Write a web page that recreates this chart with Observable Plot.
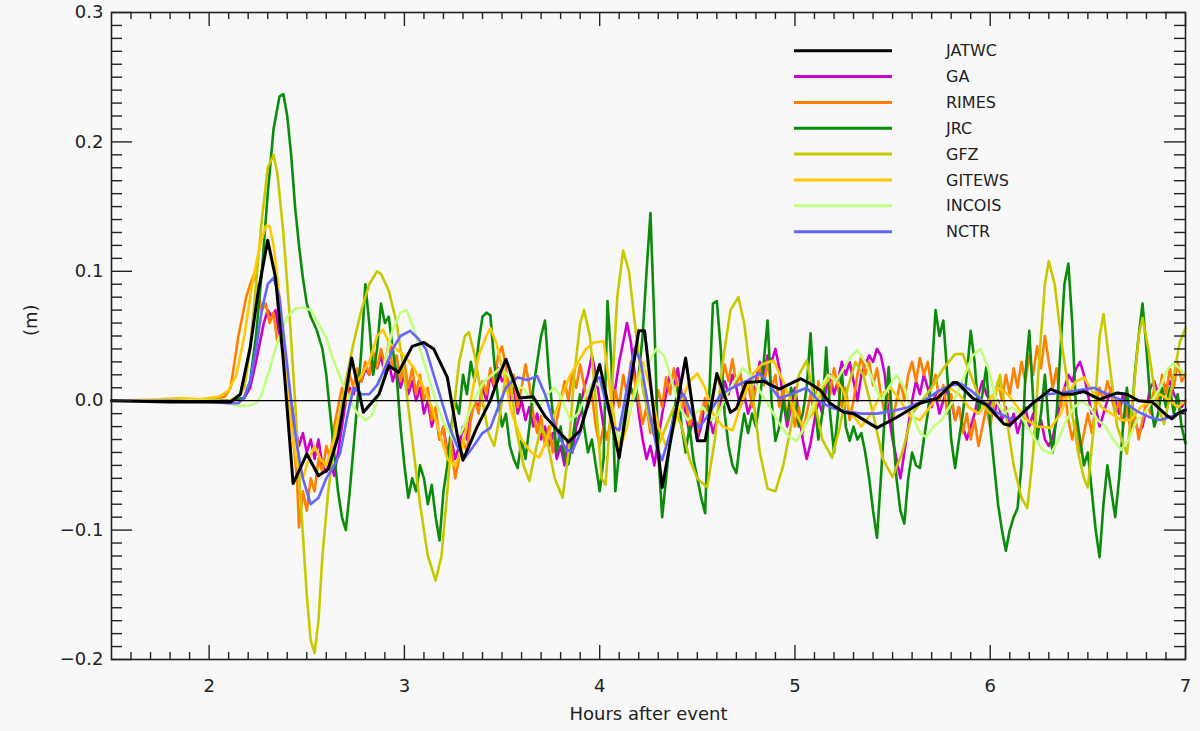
<!DOCTYPE html>
<html><head><meta charset="utf-8">
<script src="https://cdn.jsdelivr.net/npm/d3@7"></script>
<script src="https://cdn.jsdelivr.net/npm/@observablehq/plot@0.6"></script>
<style>
html,body{margin:0;padding:0;background:#f8f8f8;}
#wrap{position:relative;width:1200px;height:731px;}
#legend{position:absolute;left:0;top:0;pointer-events:none;}
</style></head><body><div id="wrap"></div>
<script>
// ---------- series (hours after event, metres) ----------
const JATWC = [[1.5,0],[1.8,-0.001],[2.0,-0.001],[2.11,-0.001],[2.16,0.005],[2.21,0.041],[2.25,0.083],[2.30,0.124],[2.34,0.095],[2.38,0.031],[2.43,-0.064],[2.50,-0.041],[2.56,-0.058],[2.61,-0.053],[2.66,-0.028],[2.73,0.033],[2.79,-0.009],[2.87,0.005],[2.92,0.027],[2.97,0.022],[3.04,0.042],[3.10,0.045],[3.15,0.040],[3.22,0.018],[3.27,-0.026],[3.30,-0.046],[3.37,-0.021],[3.44,0.0],[3.49,0.021],[3.52,0.032],[3.59,0.002],[3.66,0.003],[3.72,-0.012],[3.84,-0.032],[3.90,-0.023],[4.0,0.028],[4.10,-0.044],[4.20,0.054],[4.23,0.054],[4.32,-0.067],[4.44,0.033],[4.50,-0.031],[4.54,-0.031],[4.60,0.021],[4.67,-0.009],[4.70,-0.006],[4.75,0.014],[4.84,0.015],[4.92,0.009],[5.03,0.017],[5.08,0.013],[5.13,0.008],[5.18,-0.002],[5.25,-0.009],[5.30,-0.010],[5.42,-0.021],[5.52,-0.013],[5.64,-0.002],[5.73,0.002],[5.81,0.014],[5.83,0.014],[5.91,0.002],[5.98,-0.003],[6.07,-0.018],[6.10,-0.019],[6.21,-0.003],[6.31,0.009],[6.37,0.005],[6.42,0.005],[6.48,0.007],[6.56,0.001],[6.65,0.006],[6.70,0.005],[6.76,0.0],[6.83,-0.001],[6.90,-0.011],[6.93,-0.014],[6.96,-0.010],[7.0,-0.007]];

const GA = [[1.5,0],[2.1,0],[2.18,0.002],[2.21,0.01],[2.24,0.03],[2.26,0.045],[2.28,0.06],[2.30,0.07],[2.32,0.065],[2.34,0.07],[2.36,0.05],[2.38,0.04],[2.40,0.015],[2.42,0.0],[2.44,-0.02],[2.46,-0.035],[2.48,-0.025],[2.50,-0.04],[2.52,-0.03],[2.54,-0.045],[2.56,-0.03],[2.58,-0.05],[2.60,-0.055],[2.62,-0.045],[2.64,-0.058],[2.66,-0.04],[2.68,-0.02],[2.70,0.0],[2.72,0.01],[2.74,0.005],[2.76,0.02],[2.78,0.015],[2.80,0.025],[2.82,0.02],[2.84,0.03],[2.86,0.025],[2.88,0.035],[2.90,0.02],[2.92,0.03],[2.94,0.015],[2.96,0.025],[2.98,0.01],[3.0,0.02],[3.02,0.005],[3.04,0.015],[3.06,0.0],[3.08,0.01],[3.10,-0.01],[3.12,0.0],[3.14,-0.02],[3.16,-0.01],[3.18,-0.03],[3.20,-0.02],[3.22,-0.04],[3.24,-0.03],[3.26,-0.045],[3.28,-0.035],[3.30,-0.02],[3.32,-0.03],[3.34,-0.01],[3.36,0.0],[3.38,-0.005],[3.40,0.01],[3.42,0.0],[3.44,0.02],[3.46,0.01],[3.48,0.025],[3.50,0.015],[3.52,0.02],[3.54,0.0],[3.56,0.01],[3.58,-0.01],[3.60,0.0],[3.62,-0.015],[3.64,-0.005],[3.66,-0.02],[3.68,-0.01],[3.70,-0.03],[3.72,-0.02],[3.74,-0.035],[3.76,-0.025],[3.78,-0.045],[3.80,-0.035],[3.82,-0.05],[3.84,-0.03],[3.86,-0.04],[3.88,-0.02],[3.90,-0.01],[3.92,0.01],[3.94,0.02],[3.96,0.035],[3.98,0.02],[4.00,0.0],[4.02,-0.02],[4.04,-0.03],[4.06,-0.015],[4.08,0.01],[4.10,0.03],[4.12,0.045],[4.14,0.06],[4.16,0.045],[4.18,0.02],[4.20,-0.01],[4.22,-0.03],[4.24,-0.045],[4.26,-0.035],[4.28,-0.05],[4.30,-0.03],[4.32,-0.01],[4.34,0.005],[4.36,0.02],[4.38,0.01],[4.40,0.025],[4.42,0.005],[4.44,-0.01],[4.46,-0.025],[4.48,-0.015],[4.50,-0.03],[4.52,-0.02],[4.54,0.0],[4.56,-0.01],[4.58,-0.025],[4.60,-0.015],[4.62,0.0],[4.64,0.015],[4.66,0.005],[4.68,0.02],[4.70,0.01],[4.72,-0.005],[4.74,0.005],[4.76,-0.01],[4.78,0.0],[4.80,0.015],[4.82,0.03],[4.84,0.02],[4.86,0.035],[4.88,0.03],[4.90,0.04],[4.92,0.025],[4.94,0.0],[4.96,-0.02],[4.98,-0.005],[5.00,0.01],[5.02,-0.01],[5.04,-0.03],[5.06,-0.045],[5.08,-0.033],[5.10,-0.015],[5.12,0.0],[5.14,-0.01],[5.16,0.01],[5.18,0.02],[5.20,0.005],[5.22,0.015],[5.24,0.03],[5.26,0.02],[5.28,0.03],[5.30,0.015],[5.32,0.0],[5.34,0.02],[5.36,0.028],[5.38,0.035],[5.40,0.03],[5.42,0.04],[5.44,0.035],[5.46,0.02],[5.48,-0.01],[5.50,-0.03],[5.52,-0.045],[5.54,-0.06],[5.56,-0.04],[5.58,-0.02],[5.60,0.0],[5.62,0.015],[5.64,0.005],[5.66,0.02],[5.68,0.01],[5.70,-0.005],[5.72,0.005],[5.74,-0.01],[5.76,0.0],[5.78,0.01],[5.80,0.0],[5.82,-0.015],[5.84,-0.005],[5.86,-0.02],[5.88,-0.03],[5.90,-0.02],[5.92,-0.01],[5.94,0.005],[5.96,0.015],[5.98,0.005],[6.00,0.0],[6.02,-0.01],[6.04,0.0],[6.06,-0.015],[6.08,-0.005],[6.10,-0.02],[6.12,-0.01],[6.14,-0.025],[6.16,-0.015],[6.18,-0.005],[6.20,-0.02],[6.22,-0.01],[6.24,-0.025],[6.26,-0.015],[6.28,-0.03],[6.30,-0.035],[6.32,-0.028],[6.34,-0.015],[6.36,0.0],[6.38,0.01],[6.40,0.02],[6.42,0.015],[6.44,0.025],[6.46,0.03],[6.48,0.02],[6.50,0.005],[6.52,-0.01],[6.54,-0.005],[6.56,-0.02],[6.58,-0.01],[6.60,0.0],[6.62,0.01],[6.64,0.0],[6.66,-0.01],[6.68,0.005],[6.70,-0.01],[6.72,-0.02],[6.74,-0.015],[6.76,-0.025],[6.78,-0.02],[6.80,-0.005],[6.82,0.01],[6.84,0.015],[6.86,0.005],[6.88,0.015],[6.90,0.01],[6.92,0.015],[6.94,0.005],[6.96,0.0],[6.98,-0.005],[7.0,0.0]];

const RIMES = [[1.5,0],[2.0,0.001],[2.08,0.003],[2.11,0.01],[2.13,0.03],[2.15,0.05],[2.17,0.065],[2.19,0.08],[2.21,0.09],[2.23,0.098],[2.25,0.085],[2.27,0.07],[2.29,0.075],[2.31,0.06],[2.33,0.068],[2.35,0.045],[2.37,0.05],[2.39,0.025],[2.41,0.005],[2.43,-0.03],[2.45,-0.06],[2.46,-0.098],[2.48,-0.07],[2.50,-0.085],[2.52,-0.06],[2.54,-0.07],[2.56,-0.045],[2.58,-0.055],[2.60,-0.035],[2.62,-0.045],[2.64,-0.02],[2.66,-0.005],[2.68,0.01],[2.70,0.0],[2.72,0.02],[2.74,0.01],[2.76,0.025],[2.78,0.015],[2.80,0.03],[2.82,0.02],[2.84,0.038],[2.86,0.025],[2.88,0.04],[2.90,0.028],[2.92,0.045],[2.94,0.025],[2.96,0.035],[2.98,0.015],[3.00,0.03],[3.02,0.01],[3.04,0.025],[3.06,0.005],[3.08,0.02],[3.10,0.0],[3.12,0.01],[3.14,-0.015],[3.16,-0.005],[3.18,-0.03],[3.20,-0.02],[3.22,-0.045],[3.24,-0.035],[3.26,-0.06],[3.28,-0.045],[3.30,-0.03],[3.32,-0.04],[3.34,-0.015],[3.36,0.0],[3.38,-0.01],[3.40,0.015],[3.42,0.005],[3.44,0.025],[3.46,0.012],[3.48,0.035],[3.50,0.042],[3.52,0.025],[3.54,0.005],[3.56,0.02],[3.58,-0.005],[3.60,0.01],[3.62,0.028],[3.64,0.012],[3.66,-0.01],[3.68,-0.025],[3.70,-0.012],[3.72,-0.035],[3.74,-0.02],[3.76,-0.04],[3.78,-0.015],[3.80,0.0],[3.82,0.015],[3.84,0.0],[3.86,0.022],[3.88,0.01],[3.90,0.028],[3.92,0.012],[3.94,-0.005],[3.96,0.005],[3.98,-0.02],[4.00,-0.035],[4.02,-0.02],[4.04,-0.03],[4.06,-0.01],[4.08,0.008],[4.10,-0.005],[4.12,0.02],[4.14,0.005],[4.16,0.03],[4.18,0.015],[4.20,0.0],[4.22,-0.018],[4.24,-0.005],[4.26,-0.025],[4.28,-0.01],[4.30,0.008],[4.32,-0.005],[4.34,0.018],[4.36,0.005],[4.38,0.025],[4.40,0.01],[4.42,-0.008],[4.44,0.002],[4.46,-0.02],[4.48,-0.008],[4.50,-0.025],[4.52,-0.01],[4.54,0.002],[4.56,-0.015],[4.58,0.005],[4.60,0.02],[4.62,0.01],[4.64,0.028],[4.66,0.015],[4.68,0.032],[4.70,0.012],[4.72,0.022],[4.74,0.002],[4.76,0.015],[4.78,-0.005],[4.80,0.01],[4.82,0.025],[4.84,0.012],[4.86,0.03],[4.88,0.01],[4.90,0.02],[4.92,-0.005],[4.94,0.01],[4.96,-0.015],[4.98,0.0],[5.00,-0.02],[5.02,-0.005],[5.04,-0.025],[5.06,-0.01],[5.08,0.005],[5.10,-0.01],[5.12,0.015],[5.14,0.0],[5.16,0.02],[5.18,0.005],[5.20,0.025],[5.22,0.01],[5.24,-0.005],[5.26,0.01],[5.28,-0.015],[5.30,0.0],[5.32,0.02],[5.34,0.035],[5.36,0.02],[5.38,0.03],[5.40,0.012],[5.42,0.025],[5.44,0.005],[5.46,-0.01],[5.48,0.005],[5.50,-0.015],[5.52,0.0],[5.54,0.015],[5.56,0.0],[5.58,0.02],[5.60,0.03],[5.62,0.015],[5.64,0.033],[5.66,0.02],[5.68,0.03],[5.70,0.01],[5.72,0.02],[5.74,0.0],[5.76,0.012],[5.78,-0.01],[5.80,0.005],[5.82,-0.015],[5.84,-0.005],[5.86,-0.025],[5.88,-0.01],[5.90,-0.03],[5.92,-0.015],[5.94,-0.035],[5.96,-0.02],[5.98,-0.005],[6.00,-0.02],[6.02,0.0],[6.04,0.015],[6.06,0.0],[6.08,0.02],[6.10,0.005],[6.12,0.025],[6.14,0.01],[6.16,0.03],[6.18,0.015],[6.20,0.035],[6.22,0.02],[6.24,0.042],[6.26,0.025],[6.28,0.05],[6.30,0.03],[6.32,0.01],[6.34,0.025],[6.36,-0.005],[6.38,0.01],[6.40,-0.015],[6.42,-0.03],[6.44,-0.015],[6.46,-0.04],[6.48,-0.025],[6.50,-0.01],[6.52,-0.025],[6.54,-0.005],[6.56,0.01],[6.58,0.0],[6.60,0.015],[6.62,0.005],[6.64,-0.01],[6.66,0.0],[6.68,-0.02],[6.70,-0.005],[6.72,-0.025],[6.74,-0.01],[6.76,-0.03],[6.78,-0.015],[6.80,0.0],[6.82,-0.01],[6.84,0.01],[6.86,0.0],[6.88,0.02],[6.90,0.005],[6.92,0.025],[6.94,0.01],[6.96,0.03],[6.98,0.015],[7.0,0.02]];

const JRC = [[1.5,0],[2.1,0],[2.18,0.002],[2.21,0.015],[2.24,0.05],[2.27,0.1],[2.30,0.16],[2.33,0.21],[2.36,0.235],[2.38,0.237],[2.40,0.22],[2.42,0.19],[2.44,0.15],[2.46,0.12],[2.48,0.095],[2.50,0.075],[2.52,0.065],[2.55,0.055],[2.58,0.04],[2.60,0.02],[2.62,-0.01],[2.64,-0.04],[2.66,-0.07],[2.68,-0.09],[2.70,-0.1],[2.72,-0.07],[2.74,-0.035],[2.76,0.0],[2.78,0.04],[2.80,0.09],[2.82,0.06],[2.84,0.02],[2.86,0.04],[2.88,0.075],[2.90,0.06],[2.92,0.065],[2.94,0.04],[2.96,0.02],[2.98,-0.02],[3.00,-0.05],[3.02,-0.075],[3.04,-0.06],[3.06,-0.07],[3.08,-0.05],[3.10,-0.06],[3.12,-0.08],[3.14,-0.065],[3.16,-0.09],[3.18,-0.108],[3.20,-0.07],[3.22,-0.05],[3.24,-0.02],[3.26,0.0],[3.28,-0.01],[3.30,0.02],[3.32,0.005],[3.34,0.03],[3.36,0.015],[3.38,0.045],[3.40,0.065],[3.42,0.068],[3.44,0.066],[3.46,0.03],[3.48,0.0],[3.50,-0.02],[3.52,-0.01],[3.54,-0.035],[3.56,-0.045],[3.58,-0.052],[3.60,-0.03],[3.62,-0.045],[3.64,-0.02],[3.66,0.01],[3.68,0.03],[3.70,0.05],[3.72,0.062],[3.74,0.02],[3.76,-0.01],[3.78,-0.04],[3.80,-0.02],[3.82,-0.045],[3.84,-0.049],[3.86,-0.03],[3.88,-0.01],[3.90,0.005],[3.92,-0.02],[3.94,-0.04],[3.96,-0.03],[3.98,-0.05],[4.00,-0.07],[4.02,-0.045],[4.04,0.077],[4.06,0.03],[4.08,-0.07],[4.10,-0.04],[4.12,-0.02],[4.14,0.0],[4.16,0.01],[4.18,0.0],[4.20,0.02],[4.22,0.05],[4.24,0.1],[4.26,0.145],[4.28,0.06],[4.30,-0.04],[4.32,-0.09],[4.34,-0.06],[4.36,-0.03],[4.38,-0.01],[4.40,0.01],[4.42,-0.02],[4.44,-0.04],[4.46,-0.02],[4.48,-0.045],[4.50,-0.06],[4.52,-0.075],[4.54,-0.087],[4.56,0.0],[4.58,0.075],[4.60,0.077],[4.62,0.04],[4.64,-0.01],[4.66,-0.035],[4.68,-0.05],[4.70,-0.056],[4.72,-0.03],[4.74,-0.01],[4.76,-0.025],[4.78,-0.01],[4.80,-0.02],[4.82,0.0],[4.84,0.03],[4.86,0.062],[4.88,0.0],[4.90,-0.031],[4.92,-0.02],[4.94,0.0],[4.96,-0.015],[4.98,0.01],[5.00,0.0],[5.02,-0.02],[5.04,-0.01],[5.06,0.01],[5.08,0.052],[5.10,0.0],[5.12,-0.03],[5.14,-0.01],[5.16,0.041],[5.18,-0.01],[5.20,-0.04],[5.22,-0.01],[5.24,0.023],[5.26,-0.02],[5.28,-0.031],[5.30,-0.02],[5.32,-0.03],[5.34,-0.025],[5.36,-0.04],[5.38,-0.06],[5.40,-0.085],[5.42,-0.106],[5.44,-0.06],[5.46,-0.01],[5.48,0.026],[5.50,-0.02],[5.52,-0.06],[5.54,-0.085],[5.56,-0.095],[5.58,-0.06],[5.60,-0.04],[5.62,-0.05],[5.64,-0.052],[5.66,-0.03],[5.68,-0.01],[5.70,0.02],[5.72,0.07],[5.74,0.05],[5.76,0.062],[5.78,0.02],[5.80,-0.03],[5.82,-0.052],[5.84,-0.03],[5.86,-0.01],[5.88,0.02],[5.90,0.054],[5.92,0.03],[5.94,-0.01],[5.96,0.005],[5.98,0.026],[6.00,-0.02],[6.02,-0.05],[6.04,-0.08],[6.06,-0.1],[6.08,-0.116],[6.10,-0.1],[6.12,-0.09],[6.14,-0.083],[6.16,-0.05],[6.18,0.02],[6.20,0.054],[6.22,0.0],[6.24,-0.03],[6.26,-0.01],[6.28,0.02],[6.30,-0.02],[6.32,-0.04],[6.34,-0.01],[6.36,0.04],[6.38,0.09],[6.40,0.106],[6.42,0.06],[6.44,-0.01],[6.46,-0.03],[6.48,-0.05],[6.50,-0.04],[6.52,-0.07],[6.54,-0.1],[6.56,-0.121],[6.58,-0.08],[6.60,-0.05],[6.62,-0.07],[6.64,-0.09],[6.66,-0.06],[6.68,-0.02],[6.70,0.01],[6.72,-0.02],[6.74,0.02],[6.76,0.05],[6.78,0.075],[6.80,0.04],[6.82,0.0],[6.84,-0.02],[6.86,-0.01],[6.88,0.01],[6.90,-0.005],[6.92,0.01],[6.94,-0.01],[6.96,0.005],[6.98,-0.02],[7.0,-0.033]];

const GFZ = [[1.5,0],[2.1,0],[2.15,0.003],[2.18,0.01],[2.21,0.04],[2.24,0.09],[2.27,0.14],[2.30,0.18],[2.33,0.19],[2.35,0.175],[2.38,0.13],[2.41,0.07],[2.44,0.0],[2.47,-0.08],[2.50,-0.15],[2.52,-0.185],[2.54,-0.195],[2.56,-0.17],[2.58,-0.12],[2.61,-0.07],[2.64,-0.035],[2.67,-0.01],[2.70,0.015],[2.74,0.045],[2.78,0.07],[2.82,0.09],[2.86,0.1],[2.88,0.098],[2.92,0.085],[2.96,0.06],[3.0,0.02],[3.04,-0.03],[3.08,-0.08],[3.12,-0.12],[3.16,-0.139],[3.19,-0.12],[3.22,-0.07],[3.25,-0.01],[3.28,0.03],[3.31,0.05],[3.33,0.053],[3.36,0.035],[3.40,0.0],[3.43,-0.025],[3.46,-0.035],[3.49,-0.01],[3.52,0.02],[3.54,0.02],[3.57,-0.02],[3.61,-0.05],[3.64,-0.062],[3.67,-0.04],[3.70,-0.02],[3.73,-0.03],[3.77,-0.06],[3.81,-0.075],[3.84,-0.04],[3.87,0.02],[3.90,0.06],[3.92,0.07],[3.95,0.05],[3.98,0.0],[4.01,-0.06],[4.03,-0.065],[4.06,0.0],[4.09,0.08],[4.12,0.116],[4.15,0.1],[4.18,0.06],[4.22,0.01],[4.26,-0.02],[4.30,-0.035],[4.34,-0.02],[4.38,-0.005],[4.42,-0.02],[4.46,-0.045],[4.50,-0.06],[4.55,-0.067],[4.59,-0.03],[4.63,0.03],[4.67,0.07],[4.71,0.08],[4.74,0.06],[4.78,0.01],[4.82,-0.04],[4.86,-0.068],[4.90,-0.07],[4.94,-0.05],[4.98,-0.02],[5.02,0.02],[5.06,0.031],[5.10,0.0],[5.14,-0.03],[5.19,-0.044],[5.23,-0.02],[5.27,0.01],[5.31,0.03],[5.35,0.02],[5.40,-0.01],[5.45,-0.045],[5.50,-0.059],[5.55,-0.04],[5.60,-0.01],[5.65,0.0],[5.70,0.01],[5.76,0.025],[5.82,0.036],[5.86,0.036],[5.90,0.02],[5.95,0.0],[6.00,-0.01],[6.05,0.02],[6.08,-0.01],[6.12,-0.05],[6.16,-0.075],[6.19,-0.083],[6.22,-0.04],[6.25,0.03],[6.28,0.09],[6.30,0.108],[6.33,0.09],[6.37,0.04],[6.41,0.0],[6.45,-0.04],[6.48,-0.06],[6.50,-0.067],[6.53,-0.02],[6.56,0.05],[6.58,0.067],[6.61,0.03],[6.65,-0.02],[6.70,-0.041],[6.73,0.0],[6.76,0.05],[6.78,0.064],[6.81,0.04],[6.85,0.0],[6.89,-0.018],[6.93,0.01],[6.97,0.045],[7.0,0.056]];

const GITEWS = [[1.5,0],[1.75,0.001],[1.85,0.002],[1.95,0.001],[2.05,0.003],[2.10,0.008],[2.14,0.02],[2.18,0.05],[2.22,0.09],[2.26,0.12],[2.29,0.135],[2.31,0.135],[2.33,0.12],[2.36,0.08],[2.39,0.03],[2.42,-0.02],[2.45,-0.05],[2.48,-0.06],[2.51,-0.045],[2.54,-0.035],[2.57,-0.045],[2.60,-0.05],[2.63,-0.035],[2.66,-0.015],[2.70,0.0],[2.74,0.01],[2.78,0.02],[2.82,0.03],[2.86,0.05],[2.89,0.055],[2.92,0.045],[2.96,0.04],[3.00,0.035],[3.05,0.025],[3.10,0.01],[3.14,-0.005],[3.18,-0.025],[3.22,-0.045],[3.26,-0.05],[3.30,-0.035],[3.34,0.0],[3.38,0.035],[3.42,0.05],[3.44,0.056],[3.47,0.045],[3.51,0.02],[3.55,-0.01],[3.60,-0.03],[3.65,-0.04],[3.69,-0.044],[3.73,-0.03],[3.77,-0.01],[3.81,0.005],[3.85,0.02],[3.89,0.03],[3.93,0.04],[3.97,0.045],[4.02,0.046],[4.06,0.0],[4.10,-0.039],[4.14,-0.02],[4.18,0.01],[4.22,0.03],[4.26,0.01],[4.30,-0.02],[4.34,-0.035],[4.38,-0.02],[4.42,0.0],[4.46,0.015],[4.50,0.021],[4.54,0.01],[4.58,-0.01],[4.63,-0.02],[4.68,-0.023],[4.73,0.0],[4.78,0.02],[4.83,0.028],[4.89,0.031],[4.94,0.015],[4.99,-0.005],[5.04,-0.02],[5.09,-0.01],[5.14,0.01],[5.19,0.02],[5.24,0.01],[5.29,-0.01],[5.34,-0.02],[5.39,-0.01],[5.44,0.005],[5.49,0.01],[5.54,0.0],[5.59,-0.012],[5.64,-0.015],[5.69,-0.005],[5.74,0.005],[5.79,0.01],[5.84,0.005],[5.89,-0.005],[5.94,-0.01],[5.99,0.0],[6.04,0.01],[6.09,0.005],[6.14,-0.005],[6.19,-0.015],[6.24,-0.02],[6.31,-0.021],[6.36,-0.01],[6.40,0.005],[6.44,0.015],[6.48,0.018],[6.52,0.008],[6.57,-0.005],[6.62,-0.01],[6.67,-0.015],[6.72,-0.015],[6.77,-0.005],[6.82,0.0],[6.87,0.005],[6.92,0.0],[6.96,-0.005],[7.0,0.0]];

const INCOIS = [[1.5,0],[2.05,0],[2.1,-0.002],[2.15,-0.004],[2.2,-0.004],[2.24,-0.002],[2.27,0.005],[2.30,0.02],[2.33,0.035],[2.36,0.05],[2.40,0.065],[2.44,0.071],[2.48,0.072],[2.52,0.07],[2.56,0.06],[2.60,0.048],[2.64,0.03],[2.68,0.015],[2.72,0.0],[2.76,-0.01],[2.80,-0.015],[2.83,-0.012],[2.86,0.0],[2.90,0.03],[2.94,0.055],[2.98,0.068],[3.01,0.07],[3.05,0.055],[3.09,0.035],[3.13,0.015],[3.17,-0.005],[3.21,-0.02],[3.25,-0.03],[3.29,-0.025],[3.33,-0.01],[3.37,0.005],[3.41,0.015],[3.45,0.02],[3.49,0.025],[3.53,0.02],[3.57,0.01],[3.61,0.01],[3.65,0.0],[3.69,-0.005],[3.73,0.005],[3.77,0.01],[3.81,0.0],[3.85,-0.015],[3.89,-0.01],[3.93,0.005],[3.97,0.015],[4.01,0.01],[4.05,-0.01],[4.09,-0.03],[4.13,-0.02],[4.17,0.0],[4.21,0.02],[4.25,0.03],[4.29,0.04],[4.33,0.035],[4.37,0.015],[4.41,-0.005],[4.45,-0.015],[4.49,-0.01],[4.53,-0.005],[4.57,-0.015],[4.61,-0.01],[4.65,0.005],[4.69,0.015],[4.73,0.025],[4.77,0.02],[4.81,0.01],[4.85,0.0],[4.89,-0.01],[4.93,-0.02],[4.97,-0.028],[5.01,-0.031],[5.05,-0.02],[5.09,-0.005],[5.13,0.01],[5.17,0.02],[5.21,0.015],[5.25,0.025],[5.29,0.035],[5.32,0.039],[5.36,0.03],[5.40,0.015],[5.44,0.0],[5.48,0.01],[5.52,0.02],[5.56,0.01],[5.60,-0.01],[5.64,-0.025],[5.67,-0.028],[5.71,-0.02],[5.75,-0.015],[5.79,-0.005],[5.83,0.005],[5.87,0.02],[5.91,0.035],[5.95,0.04],[5.99,0.025],[6.03,0.0],[6.07,-0.01],[6.11,-0.005],[6.15,-0.01],[6.19,-0.02],[6.23,-0.03],[6.27,-0.038],[6.31,-0.041],[6.35,-0.03],[6.39,-0.015],[6.43,-0.005],[6.47,0.0],[6.51,-0.005],[6.55,-0.015],[6.59,-0.02],[6.63,-0.03],[6.67,-0.038],[6.71,-0.03],[6.75,-0.015],[6.79,-0.01],[6.83,0.0],[6.87,0.01],[6.91,0.025],[6.94,0.029],[6.97,0.025],[7.0,0.02]];

const NCTR = [[1.5,0],[1.8,0],[2.0,-0.001],[2.1,-0.002],[2.15,-0.002],[2.18,0.003],[2.21,0.015],[2.24,0.04],[2.27,0.07],[2.30,0.09],[2.33,0.095],[2.36,0.08],[2.39,0.04],[2.42,0.0],[2.45,-0.035],[2.48,-0.06],[2.52,-0.08],[2.56,-0.075],[2.60,-0.06],[2.64,-0.05],[2.67,-0.041],[2.71,-0.01],[2.74,0.01],[2.78,0.005],[2.82,0.005],[2.86,0.012],[2.90,0.025],[2.94,0.04],[2.98,0.05],[3.03,0.054],[3.07,0.048],[3.11,0.04],[3.15,0.02],[3.19,0.0],[3.23,-0.02],[3.27,-0.035],[3.31,-0.044],[3.35,-0.036],[3.40,-0.025],[3.44,-0.021],[3.48,-0.005],[3.52,0.01],[3.55,0.015],[3.58,0.018],[3.63,0.016],[3.68,0.019],[3.72,0.005],[3.76,-0.015],[3.80,-0.03],[3.83,-0.038],[3.86,-0.039],[3.90,-0.025],[3.94,0.0],[3.97,0.015],[4.0,0.018],[4.03,0.0],[4.07,-0.02],[4.10,-0.023],[4.14,0.01],[4.18,0.041],[4.21,0.03],[4.25,-0.005],[4.29,-0.035],[4.32,-0.046],[4.36,-0.025],[4.40,0.0],[4.43,0.005],[4.47,-0.01],[4.51,-0.021],[4.56,-0.01],[4.62,0.005],[4.68,0.01],[4.75,0.015],[4.82,0.021],[4.87,0.012],[4.92,0.002],[4.98,0.005],[5.06,0.01],[5.12,0.0],[5.18,-0.005],[5.25,-0.008],[5.34,-0.01],[5.42,-0.01],[5.50,-0.008],[5.58,-0.005],[5.66,0.0],[5.74,0.008],[5.80,0.012],[5.85,0.013],[5.90,0.008],[5.96,0.0],[6.02,-0.008],[6.09,-0.013],[6.13,-0.015],[6.18,-0.008],[6.23,0.0],[6.29,0.005],[6.36,0.006],[6.45,0.008],[6.53,0.01],[6.60,0.005],[6.68,0.0],[6.75,-0.008],[6.82,-0.013],[6.87,-0.015],[6.93,-0.012],[7.0,-0.008]];

// legend order, colours, draw order
const names  = ["JATWC","GA","RIMES","JRC","GFZ","GITEWS","INCOIS","NCTR"];
const colors = ["#000000","#cc00cc","#ff8000","#0a8c0a","#c8c800","#ffc800","#c0ff80","#6464ff"];
const seriesData = {JATWC, GA, RIMES, JRC, GFZ, GITEWS, INCOIS, NCTR};
const drawOrder = ["GA","RIMES","JRC","GFZ","GITEWS","INCOIS","NCTR"];

// axes
const xDomain = [1.5, 7];
const yDomain = [-0.2, 0.3];
const xMajor = [2, 3, 4, 5, 6, 7];
const yMajor = [-0.2, -0.1, 0.0, 0.1, 0.2, 0.3];
const xMinor = d3.range(16, 70).map(d => d / 10).filter(d => !xMajor.some(m => Math.abs(m - d) < 1e-9));
const yMinor = d3.range(-19, 30).map(d => d / 100).filter(d => !yMajor.some(m => Math.abs(m - d) < 1e-9));

const W = 1200, H = 731, mL = 111, mR = 15, mT = 12, mB = 72;
const pW = W - mL - mR, pH = H - mT - mB;
const tickColor = "#222";
const fmtY = d => (d < 0 ? "\u2212" : "") + Math.abs(d).toFixed(1);
const fmtX = d => String(d);

const lineMarks = drawOrder.map(n =>
  Plot.line(seriesData[n], {x: d => d[0], y: d => d[1], stroke: colors[names.indexOf(n)], strokeWidth: 2.6, curve: "linear"})
);

const chart = Plot.plot({
  width: W, height: H,
  marginLeft: mL, marginRight: mR, marginTop: mT, marginBottom: mB,
  style: {background: "#f8f8f8", fontFamily: "DejaVu Sans, sans-serif", fontSize: "18px", color: "#222"},
  x: {domain: xDomain},
  y: {domain: yDomain},
  marks: [
    ...lineMarks,
    Plot.ruleY([0], {stroke: "#000", strokeWidth: 1.2}),
    Plot.line(JATWC, {x: d => d[0], y: d => d[1], stroke: colors[0], strokeWidth: 3}),
    // ticks bottom/top
    Plot.tickX(xMajor, {x: d => d, insetTop: pH - 14, stroke: tickColor, strokeWidth: 1.4}),
    Plot.tickX(xMinor, {x: d => d, insetTop: pH - 7, stroke: tickColor, strokeWidth: 1.4}),
    Plot.tickX(xMajor, {x: d => d, insetBottom: pH - 14, stroke: tickColor, strokeWidth: 1.4}),
    Plot.tickX(xMinor, {x: d => d, insetBottom: pH - 7, stroke: tickColor, strokeWidth: 1.4}),
    // ticks left/right
    Plot.tickY(yMajor, {y: d => d, insetRight: pW - 21, stroke: tickColor, strokeWidth: 1.4}),
    Plot.tickY(yMinor, {y: d => d, insetRight: pW - 11, stroke: tickColor, strokeWidth: 1.4}),
    Plot.tickY(yMajor, {y: d => d, insetLeft: pW - 21, stroke: tickColor, strokeWidth: 1.4}),
    Plot.tickY(yMinor, {y: d => d, insetLeft: pW - 11, stroke: tickColor, strokeWidth: 1.4}),
    Plot.frame({stroke: tickColor, strokeWidth: 1.6}),
    Plot.axisX(xMajor, {anchor: "bottom", tickSize: 0, tickPadding: 20, tickFormat: fmtX, label: null, fill: "#222", fontSize: 18}),
    Plot.axisY(yMajor, {anchor: "left", tickSize: 0, tickPadding: 8, tickFormat: fmtY, label: null, fill: "#222", fontSize: 18}),
    Plot.text(["Hours after event"], {frameAnchor: "bottom", dy: 60, text: d => d, fontSize: 18, fill: "#222"}),
    Plot.text(["(m)"], {frameAnchor: "left", dx: -80, rotate: -90, text: d => d, fontSize: 18, fill: "#222"})
  ]
});

const wrap = document.getElementById("wrap");
wrap.appendChild(chart);

// legend overlay
const leg = d3.select(wrap).append("svg").attr("id", "legend").attr("width", W).attr("height", H);
const lg = leg.selectAll("g").data(names).join("g")
  .attr("transform", (d, i) => `translate(0,${50.7 + i * 25.85})`);
lg.append("line").attr("x1", 794).attr("x2", 892).attr("y1", 0).attr("y2", 0)
  .attr("stroke", (d, i) => colors[i]).attr("stroke-width", 3);
lg.append("text").attr("x", 946).attr("y", 0).attr("dy", "0.35em")
  .attr("font-family", "DejaVu Sans, sans-serif").attr("font-size", 16).attr("fill", "#222")
  .text(d => d);
</script>
</body></html>
